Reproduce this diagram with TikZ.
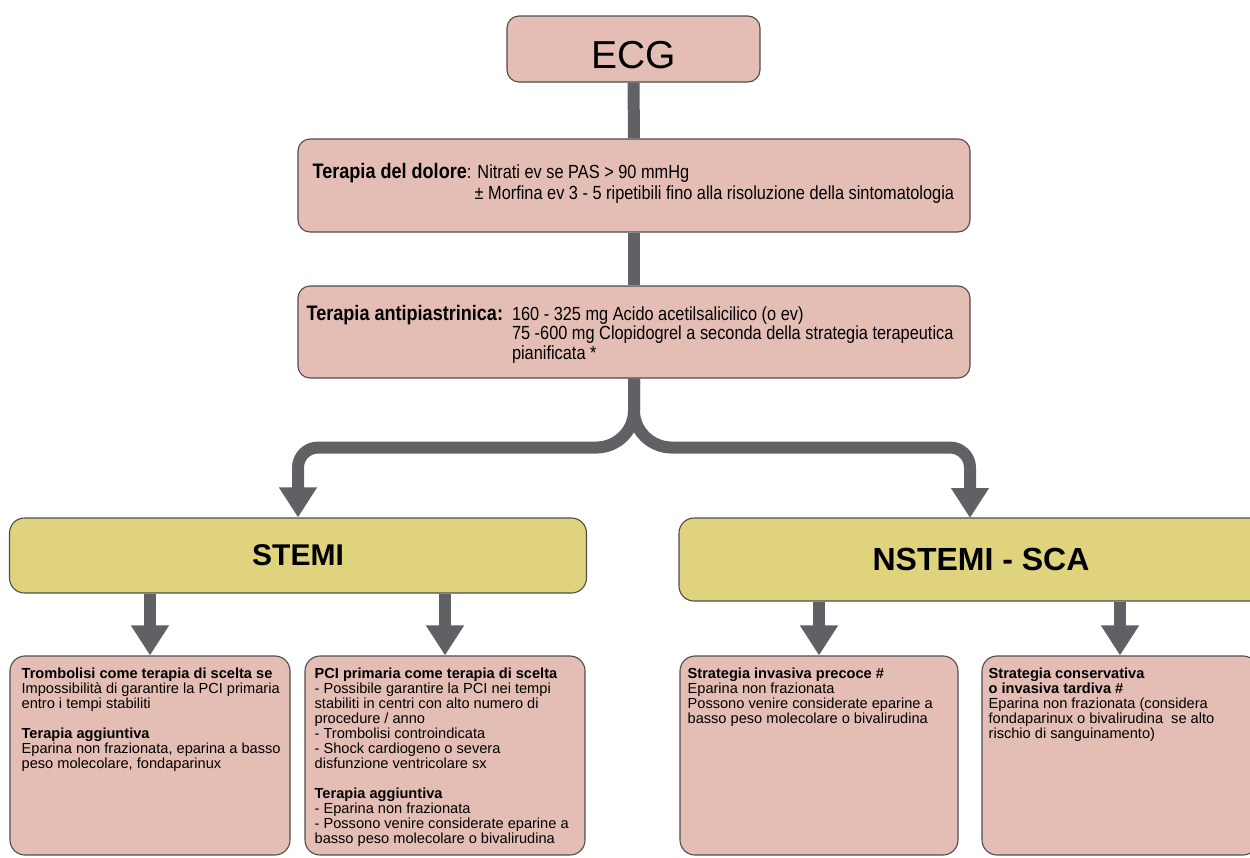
\documentclass[tikz,border=0pt]{standalone}
\usepackage{fontspec}
\setmainfont{Liberation Sans}
\newfontfamily\narrowsans[FakeStretch=0.86]{Liberation Sans}
\usetikzlibrary{arrows.meta,calc}

\definecolor{boxpink}{HTML}{E4BEB4}
\definecolor{boxyellow}{HTML}{DFD37D}
\definecolor{flowgrey}{HTML}{5F6165}
\definecolor{edgegrey}{HTML}{4D4D4D}

\begin{document}
\begin{tikzpicture}[x=1pt,y=-1pt,
  pinkbox/.style={draw=edgegrey, line width=1.1pt, fill=boxpink, rounded corners=12pt, inner sep=0pt},
  lowbox/.style={pinkbox, rounded corners=15pt, minimum height=199pt},
  yellowbox/.style={draw=edgegrey, line width=1.1pt, fill=boxyellow, rounded corners=15pt, inner sep=0pt},
  trunk/.style={draw=flowgrey, line width=12pt},
  flow/.style={draw=flowgrey, line width=12pt, line join=round, -{Triangle[width=36pt,length=30pt]}},
  lowtext/.style={anchor=north west, inner sep=0pt, align=left, font=\fontsize{14.6}{15}\selectfont},
]
\useasboundingbox (0,0) rectangle (1250,857);
\clip (0,0) rectangle (1250,857);

% ---- top chain ----
\node[pinkbox, minimum width=253pt, minimum height=66pt,
      font=\fontsize{39}{39}\selectfont, text height=39pt, text depth=0pt]
      (ecg) at (633.5,49) {ECG};

\node[pinkbox, minimum width=672pt, minimum height=93pt] (dol) at (634,185.5) {};
\node[anchor=west, inner sep=0pt, align=left, font=\narrowsans\fontsize{19}{21}\selectfont]
  (doltxt) at ($(dol.west)+(15,-2)$)
  {{\fontsize{21}{21}\selectfont\bfseries Terapia del dolore}: Nitrati ev se PAS > 90 mmHg\\
   \hspace*{162pt}± Morfina ev 3 - 5 ripetibili fino alla risoluzione della sintomatologia};

\node[pinkbox, minimum width=672pt, minimum height=92pt] (ap) at (634,332) {};
\node[anchor=west, inner sep=0pt, font=\narrowsans\fontsize{19}{19}\selectfont]
  (aptxt) at ($(ap.west)+(9,3)$)
  {\begin{tabular}{@{}l@{\hspace{9pt}}l@{}}
   {\fontsize{21}{19}\selectfont\bfseries Terapia antipiastrinica:} & 160 - 325 mg Acido acetilsalicilico (o ev)\\
   & 75 -600 mg Clopidogrel a seconda della strategia terapeutica\\
   & pianificata *
   \end{tabular}};

\draw[trunk] (ecg.south) -- (dol.north);
\draw[trunk] (dol.south) -- (ap.north);

% ---- branches ----
\node[yellowbox, minimum width=577pt, minimum height=75pt,
      font=\fontsize{30}{30}\selectfont\bfseries] (stemi) at (298,555.5) {STEMI};
\node[yellowbox, minimum width=604pt, minimum height=83pt,
      font=\fontsize{32}{32}\selectfont\bfseries] (nstemi) at (981,559.5) {NSTEMI - SCA};
\coordinate (nsin) at (970,518);

\draw[flow] (ap.south) -- ++(0,32) to[out=-90,in=0] ++(-38,37)
  [rounded corners=20pt] -| (stemi.north);
\draw[flow] (ap.south) -- ++(0,32) to[out=-90,in=180] ++(38,37)
  [rounded corners=20pt] -| (nsin);

% ---- lower boxes ----
\node[lowbox, minimum width=280pt] (b1) at (150,755.5) {};
\node[lowbox, minimum width=280pt] (b2) at (445,755.5) {};
\node[lowbox, minimum width=278pt] (b3) at (819,755.5) {};
\node[lowbox, minimum width=276pt] (b4) at (1120,755.5) {};

\draw[flow] (stemi.south -| b1.north) -- (b1.north);
\draw[flow] (stemi.south -| b2.north) -- (b2.north);
\draw[flow] (nstemi.south -| b3.north) -- (b3.north);
\draw[flow] (nstemi.south -| b4.north) -- (b4.north);

\node[lowtext] (t1) at ($(b1.north west)+(12,12.5)$)
  {\textbf{Trombolisi come terapia di scelta se}\\
   Impossibilità di garantire la PCI primaria\\
   entro i tempi stabiliti\\[15pt]
   \textbf{Terapia aggiuntiva}\\
   Eparina non frazionata, eparina a basso\\
   peso molecolare, fondaparinux};

\node[lowtext] (t2) at ($(b2.north west)+(10,12.5)$)
  {\textbf{PCI primaria come terapia di scelta}\\
   - Possibile garantire la PCI nei tempi\\
   stabiliti in centri con alto numero di\\
   procedure / anno\\
   - Trombolisi controindicata\\
   - Shock cardiogeno o severa\\
   disfunzione ventricolare sx\\[15pt]
   \textbf{Terapia aggiuntiva}\\
   - Eparina non frazionata\\
   - Possono venire considerate eparine a\\
   basso peso molecolare o bivalirudina};

\node[lowtext] (t3) at ($(b3.north west)+(8,12.5)$)
  {\textbf{Strategia invasiva precoce \#}\\
   Eparina non frazionata\\
   Possono venire considerate eparine a\\
   basso peso molecolare o bivalirudina};

\node[lowtext] (t4) at ($(b4.north west)+(7,12.5)$)
  {\textbf{Strategia conservativa}\\
   \textbf{o invasiva tardiva \#}\\
   Eparina non frazionata (considera\\
   fondaparinux o bivalirudina\ \ se alto\\
   rischio di sanguinamento)};
\end{tikzpicture}
\end{document}
